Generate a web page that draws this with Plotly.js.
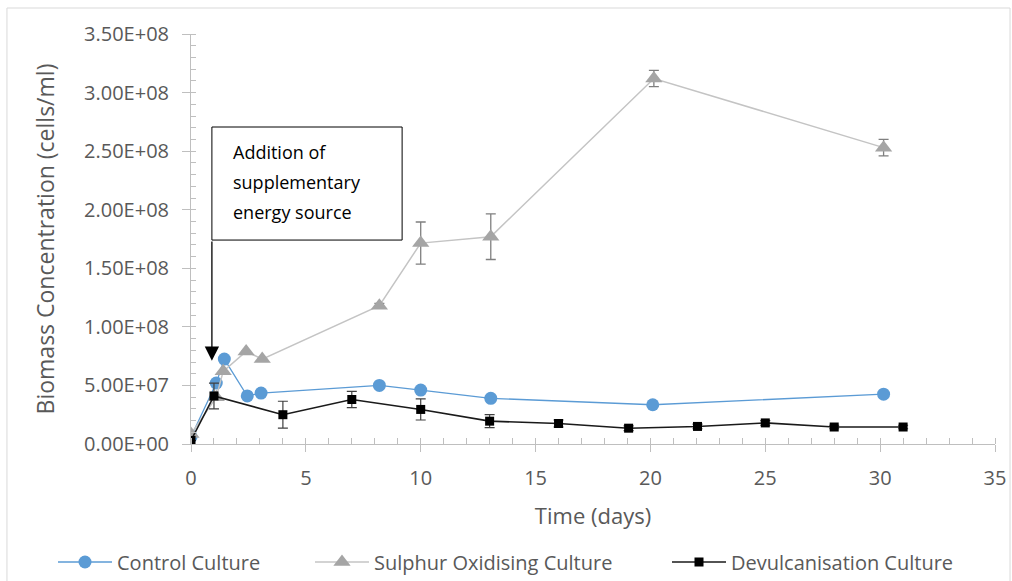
<!DOCTYPE html>
<html>
<head>
<meta charset="utf-8">
<script src="https://cdn.plot.ly/plotly-3.0.1.min.js"></script>
<style>
html,body{margin:0;padding:0;background:#fff;}
#chart{width:1012px;height:581px;}
</style>
</head>
<body>
<div id="chart"></div>
<script>
// ---- data ----
const controlDays = [0, 1.1, 1.45, 2.45, 3.05, 8.2, 10.0, 13.05, 20.1, 30.15];
const controlValues = [6e6, 5.2e7, 7.25e7, 4.1e7, 4.35e7, 5.0e7, 4.6e7, 3.9e7, 3.35e7, 4.25e7];

const sulphurDays = [0, 1.1, 1.4, 2.4, 3.1, 8.2, 10.0, 13.05, 20.15, 30.15];
const sulphurValues = [8.5e6, 4.0e7, 6.2e7, 7.9e7, 7.25e7, 1.18e8, 1.715e8, 1.77e8, 3.12e8, 2.53e8];
const sulphurErrors = [0, 0, 0, 0, 0, 2e6, 1.8e7, 1.95e7, 7e6, 7e6];

const devulcDays = [0, 1.0, 4.0, 7.0, 10.0, 13.0, 16.0, 19.05, 22.05, 25.0, 28.0, 31.0];
const devulcValues = [3e6, 4.1e7, 2.5e7, 3.8e7, 2.95e7, 1.95e7, 1.75e7, 1.35e7, 1.5e7, 1.8e7, 1.45e7, 1.45e7];
const devulcErrors = [0, 1.1e7, 1.15e7, 7e6, 9e6, 5.5e6, 3e6, 2e6, 2e6, 2e6, 1.5e6, 1.5e6];

const seriesNames = ['Control Culture', 'Sulphur Oxidising Culture', 'Devulcanisation Culture'];

const yTickVals = [0, 5e7, 1e8, 1.5e8, 2e8, 2.5e8, 3e8, 3.5e8];
const yTickText = ['0.00E+00', '5.00E+07', '1.00E+08', '1.50E+08', '2.00E+08', '2.50E+08', '3.00E+08', '3.50E+08'];
const xTickVals = [0, 5, 10, 15, 20, 25, 30, 35];

const noteLines = ['Addition of', 'supplementary', 'energy source'];
// annotation anchor (data units)
const arrowX = 0.91, arrowTipY = 7.1e7;
const boxX0 = 0.91, boxX1 = 9.19, boxY0 = 1.741e8, boxY1 = 2.706e8;
const noteX = 1.74, noteYs = [2.493e8, 2.237e8, 1.98e8];

const FONT = '"Open Sans", "Noto Sans", sans-serif';
const GREY_TXT = '#595959';
const AXIS = '#BFBFBF';

const traces = [
  {
    x: controlDays, y: controlValues, name: seriesNames[0], legend: 'legend',
    type: 'scatter', mode: 'lines+markers',
    line: {color: '#5B9BD5', width: 1.3},
    marker: {symbol: 'circle', size: 13, color: '#5B9BD5'}
  },
  {
    x: sulphurDays, y: sulphurValues, name: seriesNames[1], legend: 'legend2',
    type: 'scatter', mode: 'lines+markers',
    line: {color: '#C4C4C4', width: 1.5},
    marker: {symbol: 'triangle-up', size: 15, color: '#A5A5A5'},
    error_y: {type: 'data', array: sulphurErrors, visible: true, color: '#7F7F7F', thickness: 1.3, width: 5}
  },
  {
    x: devulcDays, y: devulcValues, name: seriesNames[2], legend: 'legend3',
    type: 'scatter', mode: 'lines+markers',
    line: {color: '#1A1A1A', width: 1.6},
    marker: {symbol: 'square', size: 9, color: '#000000'},
    error_y: {type: 'data', array: devulcErrors, visible: true, color: '#404040', thickness: 1.2, width: 5}
  }
];

const annotations = noteLines.map((t, i) => ({
  x: noteX, y: noteYs[i], xref: 'x', yref: 'y', text: t, showarrow: false,
  xanchor: 'left', yanchor: 'middle', font: {family: FONT, size: 18, color: '#000'}
}));
annotations.push({
  x: arrowX, y: arrowTipY, xref: 'x', yref: 'y',
  ax: arrowX, ay: boxY0, axref: 'x', ayref: 'y',
  text: '', showarrow: true, arrowhead: 2, arrowsize: 2.2, arrowwidth: 1.3, arrowcolor: '#000',
  standoff: 0, startstandoff: 0
});

function legendAt(px) {
  return {
    orientation: 'h', xref: 'container', yref: 'container',
    x: px / 1012, xanchor: 'left', y: 19 / 581, yanchor: 'middle',
    itemwidth: 54, bgcolor: 'rgba(0,0,0,0)',
    font: {family: FONT, size: 20, color: GREY_TXT}
  };
}

const layout = {
  width: 1012, height: 581,
  margin: {l: 191, r: 17, t: 34, b: 137},
  paper_bgcolor: '#fff', plot_bgcolor: '#fff',
  font: {family: FONT, color: GREY_TXT},
  showlegend: true,
  legend: legendAt(53),
  legend2: legendAt(310),
  legend3: legendAt(667),
  xaxis: {
    range: [0, 35], tickmode: 'array', tickvals: xTickVals, automargin: false,
    showgrid: false, zeroline: false, showline: true, linecolor: AXIS, linewidth: 1,
    ticks: 'outside', ticklen: 7, tickcolor: AXIS, tickwidth: 1, ticklabelstandoff: 9,
    tickfont: {family: FONT, size: 20, color: GREY_TXT},
    minor: {tickmode: 'linear', tick0: 0, dtick: 1, ticks: 'inside', ticklen: 6, tickcolor: AXIS, showgrid: false},
    title: {text: 'Time (days)', font: {family: FONT, size: 22, color: GREY_TXT}, standoff: 18}
  },
  yaxis: {
    range: [0, 3.5e8], tickmode: 'array', tickvals: yTickVals, ticktext: yTickText, automargin: false,
    showgrid: false, zeroline: false, showline: true, linecolor: AXIS, linewidth: 1,
    ticks: 'outside', ticklen: 8, tickcolor: AXIS, tickwidth: 1, ticklabelstandoff: 9,
    tickfont: {family: FONT, size: 20, color: GREY_TXT},
    minor: {tickmode: 'linear', tick0: 0, dtick: 1e7, ticks: 'inside', ticklen: 5, tickcolor: AXIS, showgrid: false},
    title: {text: 'Biomass Concentration (cells/ml)', font: {family: FONT, size: 23, color: GREY_TXT}, standoff: 22}
  },
  shapes: [
    {type: 'rect', xref: 'x', yref: 'y', x0: boxX0, x1: boxX1, y0: boxY0, y1: boxY1,
     line: {color: '#000', width: 1}, fillcolor: 'rgba(255,255,255,1)', layer: 'above'},
    {type: 'rect', xref: 'paper', yref: 'paper', x0: -0.2289, x1: 1.0187, y0: -0.4, y1: 1.0634,
     line: {color: '#D9D9D9', width: 1}, fillcolor: 'rgba(0,0,0,0)', layer: 'below'}
  ],
  annotations: annotations
};

Plotly.newPlot('chart', traces, layout, {displayModeBar: false, staticPlot: true});
</script>
</body>
</html>
